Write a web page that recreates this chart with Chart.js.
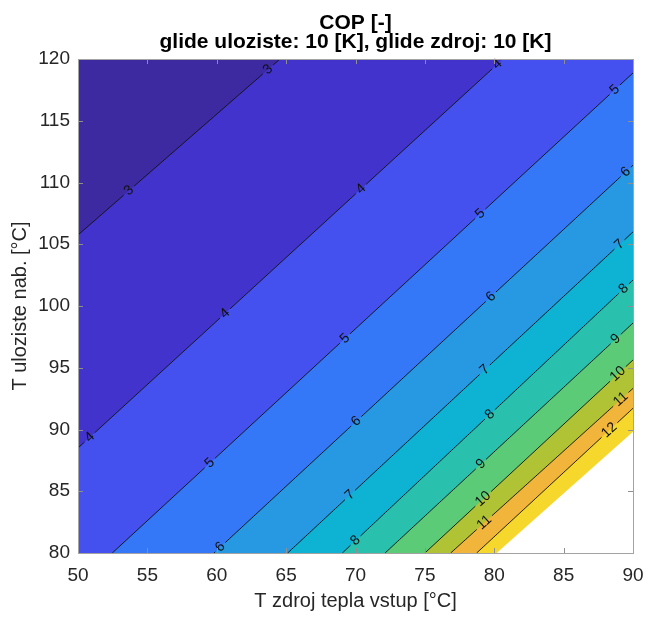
<!DOCTYPE html>
<html>
<head>
<meta charset="utf-8">
<title>COP</title>
<script src="https://cdn.jsdelivr.net/npm/chart.js@4.4.1/dist/chart.umd.min.js"></script>
<style>
  html, body { margin: 0; padding: 0; background: #fff; }
</style>
</head>
<body>
<canvas id="cop-chart" width="648" height="619"></canvas>
<script>
// texts
const titleLines = ['COP [-]', 'glide uloziste: 10 [K], glide zdroj: 10 [K]'];
const xTitle = 'T zdroj tepla vstup [°C]';
const yTitle = 'T uloziste nab. [°C]';

// axes
const xTicks = [50, 55, 60, 65, 70, 75, 80, 85, 90];
const yTicks = [80, 85, 90, 95, 100, 105, 110, 115, 120];

// contour lines: where each COP level enters and leaves the plot
const levels     = [3, 4, 5, 6, 7, 8, 9, 10, 11, 12];
const lineStartX = [50, 50, 52.47, 59.8, 65.11, 69.05, 72.13, 75.0, 76.86, 78.73];
const lineStartY = [105.75, 88.5, 80, 80, 80, 80, 80, 80, 80, 80];
const lineEndX   = [64.56, 80.63, 90, 90, 90, 90, 90, 90, 90, 90];
const lineEndY   = [120, 120, 118.87, 111.4, 106.0, 102.1, 98.62, 95.63, 93.33, 91.72];

// fill for each band: below 3, 3-4, ..., above 12
const bandColors = ['#3d29a0', '#4233cd', '#4551ef', '#3478f8', '#2699e2', '#0eb2d3',
                    '#29c1ad', '#5bcb77', '#afc335', '#f0b53a', '#f6d82d'];

// no data beyond this edge
const validEdgeX = [80.17, 90];
const validEdgeY = [80, 89.82];

// inline contour labels
const labelLevel = [3, 3, 4, 4, 4, 4, 5, 5, 5, 5, 6, 6, 6, 6, 7, 7, 7, 8, 8, 8, 9, 9, 10, 10, 11, 11, 12];
const labelX = [63.77, 53.7, 80.37, 70.37, 60.55, 50.86, 88.7, 78.92, 69.12, 59.44,
                89.42, 79.64, 69.96, 60.23, 88.94, 79.21, 69.6, 89.42, 79.7, 69.96,
                88.77, 79.09, 88.87, 79.16, 89.06, 79.33, 88.29];
const labelY = [119.05, 109.3, 119.4, 109.5, 99.46, 89.34, 117.5, 107.56, 97.52, 87.35,
                110.93, 100.89, 90.77, 80.51, 105.08, 94.96, 84.7, 101.3, 91.2, 81.05,
                97.31, 87.13, 94.55, 84.43, 92.52, 82.41, 89.96];

const X_MIN = 50, X_MAX = 90, Y_MIN = 80, Y_MAX = 120;
const FONT = '"Liberation Sans", Arial, Helvetica, sans-serif';
const labelFont = '14px ' + FONT;

// region on the high-COP side (lower right) of a line
function highSide(x0, y0, x1, y1) {
  const pts = [{ x: x0, y: y0 }, { x: x1, y: y1 }];
  if (y1 === Y_MAX && x1 < X_MAX) pts.push({ x: X_MAX, y: Y_MAX });
  pts.push({ x: X_MAX, y: Y_MIN });
  if (x0 === X_MIN && y0 > Y_MIN) pts.push({ x: X_MIN, y: Y_MIN });
  return pts;
}

function areaDataset(points, color, order) {
  return {
    data: points,
    backgroundColor: color,
    borderWidth: 0,
    pointRadius: 0,
    fill: 'shape',
    tension: 0,
    order: order
  };
}

const datasets = [];
datasets.push(areaDataset([
  { x: X_MIN, y: Y_MIN }, { x: X_MIN, y: Y_MAX }, { x: X_MAX, y: Y_MAX }, { x: X_MAX, y: Y_MIN }
], bandColors[0], 100));
levels.forEach((lev, i) => {
  datasets.push(areaDataset(
    highSide(lineStartX[i], lineStartY[i], lineEndX[i], lineEndY[i]), bandColors[i + 1], 99 - i));
});
datasets.push(areaDataset(
  highSide(validEdgeX[0], validEdgeY[0], validEdgeX[1], validEdgeY[1]), '#ffffff', 80));

const lineIndex = datasets.length;
levels.forEach((lev, i) => {
  datasets.push({
    data: [{ x: lineStartX[i], y: lineStartY[i] }, { x: lineEndX[i], y: lineEndY[i] }],
    borderColor: '#111111',
    borderWidth: 0.9,
    pointRadius: 0,
    fill: false,
    spanGaps: false,
    tension: 0,
    order: 0
  });
});

// position of a label projected onto its line, in pixels
function labelGeometry(chart, j) {
  const xs = chart.scales.x, ys = chart.scales.y;
  const i = levels.indexOf(labelLevel[j]);
  const ax = xs.getPixelForValue(lineStartX[i]), ay = ys.getPixelForValue(lineStartY[i]);
  const bx = xs.getPixelForValue(lineEndX[i]), by = ys.getPixelForValue(lineEndY[i]);
  const len = Math.hypot(bx - ax, by - ay);
  const px = xs.getPixelForValue(labelX[j]), py = ys.getPixelForValue(labelY[j]);
  const t = ((px - ax) * (bx - ax) + (py - ay) * (by - ay)) / (len * len);
  return { i, t, len, x: ax + t * (bx - ax), y: ay + t * (by - ay), angle: Math.atan2(by - ay, bx - ax) };
}

// break each contour line where its labels sit
function cutLinesAtLabels(chart) {
  const ctx = chart.ctx;
  ctx.save();
  ctx.font = labelFont;
  levels.forEach((lev, i) => {
    const cuts = [];
    labelLevel.forEach((l, j) => {
      if (l !== lev) return;
      const g = labelGeometry(chart, j);
      const half = (ctx.measureText(String(lev)).width / 2 + 3) / g.len;
      cuts.push([g.t - half, g.t + half]);
    });
    cuts.sort((a, b) => a[0] - b[0]);
    const at = t => ({
      x: lineStartX[i] + t * (lineEndX[i] - lineStartX[i]),
      y: lineStartY[i] + t * (lineEndY[i] - lineStartY[i])
    });
    const pts = [];
    let s = 0;
    cuts.concat([[1, 1]]).forEach(([a, b]) => {
      const e = Math.min(a, 1);
      if (e > s) {
        if (pts.length) pts.push({ x: null, y: null });
        pts.push(at(s), at(e));
      }
      s = Math.max(s, b);
    });
    chart.data.datasets[lineIndex + i].data = pts;
  });
  ctx.restore();
}

const contourLabels = {
  id: 'contourLabels',
  afterDatasetsDraw(chart) {
    const ctx = chart.ctx;
    ctx.save();
    ctx.font = labelFont;
    ctx.fillStyle = '#111111';
    ctx.textAlign = 'center';
    ctx.textBaseline = 'middle';
    labelLevel.forEach((lev, j) => {
      const g = labelGeometry(chart, j);
      ctx.save();
      ctx.translate(g.x, g.y);
      ctx.rotate(g.angle);
      ctx.fillText(String(lev), 0, 0);
      ctx.restore();
    });
    ctx.restore();
  }
};

// box around the axes with inward ticks on all sides
const axesBox = {
  id: 'axesBox',
  afterDraw(chart) {
    const { ctx, chartArea: a, scales } = chart;
    ctx.save();
    ctx.strokeStyle = '#8f8f8f';
    ctx.lineWidth = 1;
    ctx.beginPath();
    xTicks.forEach(v => {
      const x = Math.round(scales.x.getPixelForValue(v)) + 0.5;
      ctx.moveTo(x, a.bottom); ctx.lineTo(x, a.bottom - 5);
      ctx.moveTo(x, a.top); ctx.lineTo(x, a.top + 5);
    });
    yTicks.forEach(v => {
      const y = Math.round(scales.y.getPixelForValue(v)) + 0.5;
      ctx.moveTo(a.left, y); ctx.lineTo(a.left + 5, y);
      ctx.moveTo(a.right, y); ctx.lineTo(a.right - 5, y);
    });
    ctx.stroke();
    ctx.strokeStyle = '#a3a3a3';
    ctx.strokeRect(Math.round(a.left) + 0.5, Math.round(a.top) + 0.5,
                   Math.round(a.right - a.left), Math.round(a.bottom - a.top));
    ctx.restore();
  }
};

const twoLineTitle = {
  id: 'twoLineTitle',
  afterDraw(chart) {
    const { ctx, chartArea: a } = chart;
    ctx.save();
    ctx.font = 'bold 21px ' + FONT;
    ctx.fillStyle = '#000';
    ctx.textAlign = 'center';
    ctx.textBaseline = 'alphabetic';
    const cx = (a.left + a.right) / 2;
    ctx.fillText(titleLines[0], cx, 29);
    ctx.fillText(titleLines[1], cx, 48);
    ctx.restore();
  }
};

const chart = new Chart(document.getElementById('cop-chart'), {
  type: 'line',
  data: { datasets },
  options: {
    responsive: false,
    animation: false,
    events: [],
    layout: { padding: { top: 59, right: 15, left: 0, bottom: 0 } },
    plugins: {
      legend: { display: false },
      tooltip: { enabled: false },
      title: { display: false }
    },
    scales: {
      x: {
        type: 'linear',
        min: X_MIN,
        max: X_MAX,
        afterBuildTicks: s => { s.ticks = xTicks.map(v => ({ value: v })); },
        afterFit: s => { s.height = 66; s.paddingLeft = 0; s.paddingRight = 0; },
        grid: { display: false, drawTicks: false },
        border: { display: false },
        ticks: { color: '#262626', font: { family: FONT, size: 19 }, padding: 11, maxRotation: 0 },
        title: { display: true, text: xTitle, color: '#262626', font: { family: FONT, size: 20 }, padding: { top: 0, bottom: 6 } }
      },
      y: {
        type: 'linear',
        min: Y_MIN,
        max: Y_MAX,
        afterBuildTicks: s => { s.ticks = yTicks.map(v => ({ value: v })); },
        afterFit: s => { s.width = 78; s.paddingTop = 0; s.paddingBottom = 0; },
        grid: { display: false, drawTicks: false },
        border: { display: false },
        ticks: { color: '#262626', font: { family: FONT, size: 19 }, padding: 8 },
        title: { display: true, text: yTitle, color: '#262626', font: { family: FONT, size: 20 }, padding: { top: 8, bottom: 0 } }
      }
    }
  },
  plugins: [contourLabels, axesBox, twoLineTitle]
});

cutLinesAtLabels(chart);
chart.update('none');
</script>
</body>
</html>
